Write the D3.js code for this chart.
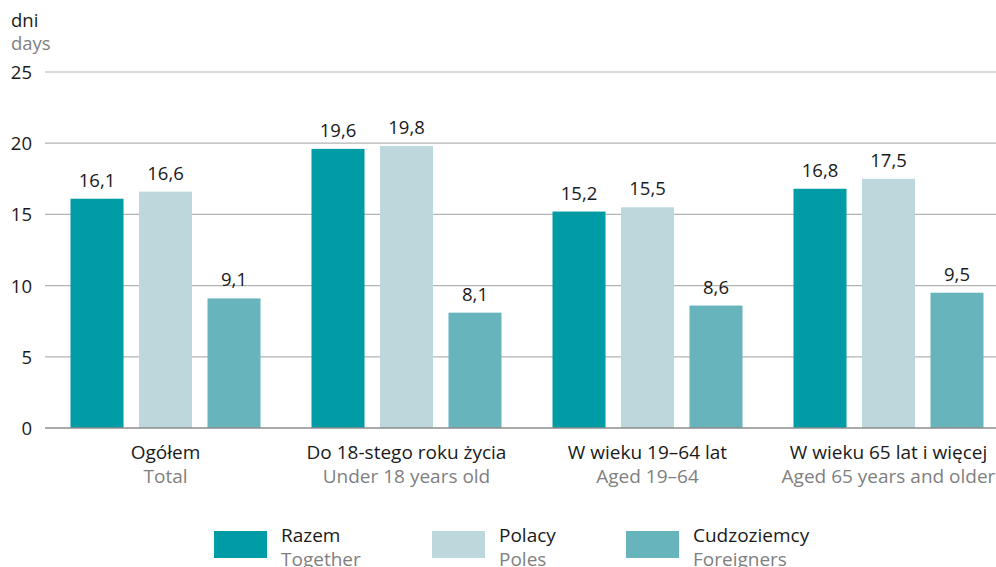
<!DOCTYPE html>
<html>
<head>
<meta charset="utf-8">
<script src="https://cdn.jsdelivr.net/npm/d3@7"></script>
<style>
  html, body { margin: 0; padding: 0; background: #fff; }
  svg { display: block; font-family: "Open Sans", "Noto Sans", sans-serif; }
</style>
</head>
<body>
<svg id="chart" width="996" height="567"></svg>
<script>
// Categories (Polish / English)
const categoriesPl = ["Ogółem", "Do 18-stego roku życia", "W wieku 19–64 lat", "W wieku 65 lat i więcej"];
const categoriesEn = ["Total", "Under 18 years old", "Aged 19–64", "Aged 65 years and older"];

// Series
const seriesPl = ["Razem", "Polacy", "Cudzoziemcy"];
const seriesEn = ["Together", "Poles", "Foreigners"];
const razem = [16.1, 19.6, 15.2, 16.8];
const polacy = [16.6, 19.8, 15.5, 17.5];
const cudzoziemcy = [9.1, 8.1, 8.6, 9.5];

const yTicks = [0, 5, 10, 15, 20, 25];
const colors = ["#009ca6", "#bcd8dd", "#67b4bd"];

const values = [razem, polacy, cudzoziemcy];
const rows = categoriesPl.map((c, i) => ({
  cat: c,
  vals: seriesPl.map((s, j) => ({ series: s, value: values[j][i] }))
}));

const svg = d3.select("#chart");
const fmt = v => d3.format(".1f")(v).replace(".", ",");
const FS = 18.5;
const DARK = "#1a1a1a", GREY = "#808080";

const x0 = d3.scaleBand().domain(categoriesPl).range([45, 1009]).padding(0);
const x1 = d3.scaleBand().domain(seriesPl).range([25.5, x0.bandwidth() - 25.5]).paddingInner(0.226).paddingOuter(0);
const y = d3.scaleLinear().domain([0, 25]).range([428, 72]);

// Grid lines
svg.append("g")
  .selectAll("line")
  .data(yTicks.filter(t => t > 0))
  .join("line")
  .attr("x1", 45).attr("x2", 996)
  .attr("y1", d => y(d)).attr("y2", d => y(d))
  .attr("stroke", "#b3b3b3").attr("stroke-width", 1.2);

// Y axis tick labels
svg.append("g")
  .selectAll("text")
  .data(yTicks)
  .join("text")
  .attr("x", 32).attr("y", d => y(d) + 7)
  .attr("text-anchor", "end")
  .attr("font-size", FS).attr("fill", DARK)
  .text(d => d);

// Unit labels
svg.append("text").attr("x", 11).attr("y", 27).attr("font-size", FS).attr("fill", DARK).text("dni");
svg.append("text").attr("x", 11).attr("y", 50).attr("font-size", FS).attr("fill", GREY).text("days");

// Bars
const groups = svg.append("g")
  .selectAll("g")
  .data(rows)
  .join("g")
  .attr("transform", d => `translate(${x0(d.cat)},0)`);

groups.selectAll("rect")
  .data(d => d.vals)
  .join("rect")
  .attr("x", d => x1(d.series))
  .attr("width", x1.bandwidth())
  .attr("y", d => y(d.value))
  .attr("height", d => y(0) - y(d.value))
  .attr("fill", (d, i) => colors[i]);

groups.selectAll("text.val")
  .data(d => d.vals)
  .join("text")
  .attr("class", "val")
  .attr("x", d => x1(d.series) + x1.bandwidth() / 2)
  .attr("y", d => y(d.value) - 12)
  .attr("text-anchor", "middle")
  .attr("font-size", FS).attr("fill", DARK)
  .text(d => fmt(d.value));

// Baseline
svg.append("line")
  .attr("x1", 45).attr("x2", 996)
  .attr("y1", y(0)).attr("y2", y(0))
  .attr("stroke", "#8c8c8c").attr("stroke-width", 1.6);

// Category labels
const catG = svg.append("g");
categoriesPl.forEach((c, i) => {
  const cx = x0(c) + x0.bandwidth() / 2;
  catG.append("text").attr("x", cx).attr("y", 459).attr("text-anchor", "middle")
    .attr("font-size", 19).attr("fill", DARK).text(c);
  catG.append("text").attr("x", cx).attr("y", 483).attr("text-anchor", "middle")
    .attr("font-size", 19).attr("fill", GREY).text(categoriesEn[i]);
});

// Legend
const legendX = [214, 432, 626];
const leg = svg.append("g");
seriesPl.forEach((s, i) => {
  leg.append("rect").attr("x", legendX[i]).attr("y", 531).attr("width", 53).attr("height", 27).attr("fill", colors[i]);
  leg.append("text").attr("x", legendX[i] + 67).attr("y", 542).attr("font-size", 19).attr("fill", DARK).text(s);
  leg.append("text").attr("x", legendX[i] + 67).attr("y", 566).attr("font-size", 19).attr("fill", GREY).text(seriesEn[i]);
});
</script>
</body>
</html>
